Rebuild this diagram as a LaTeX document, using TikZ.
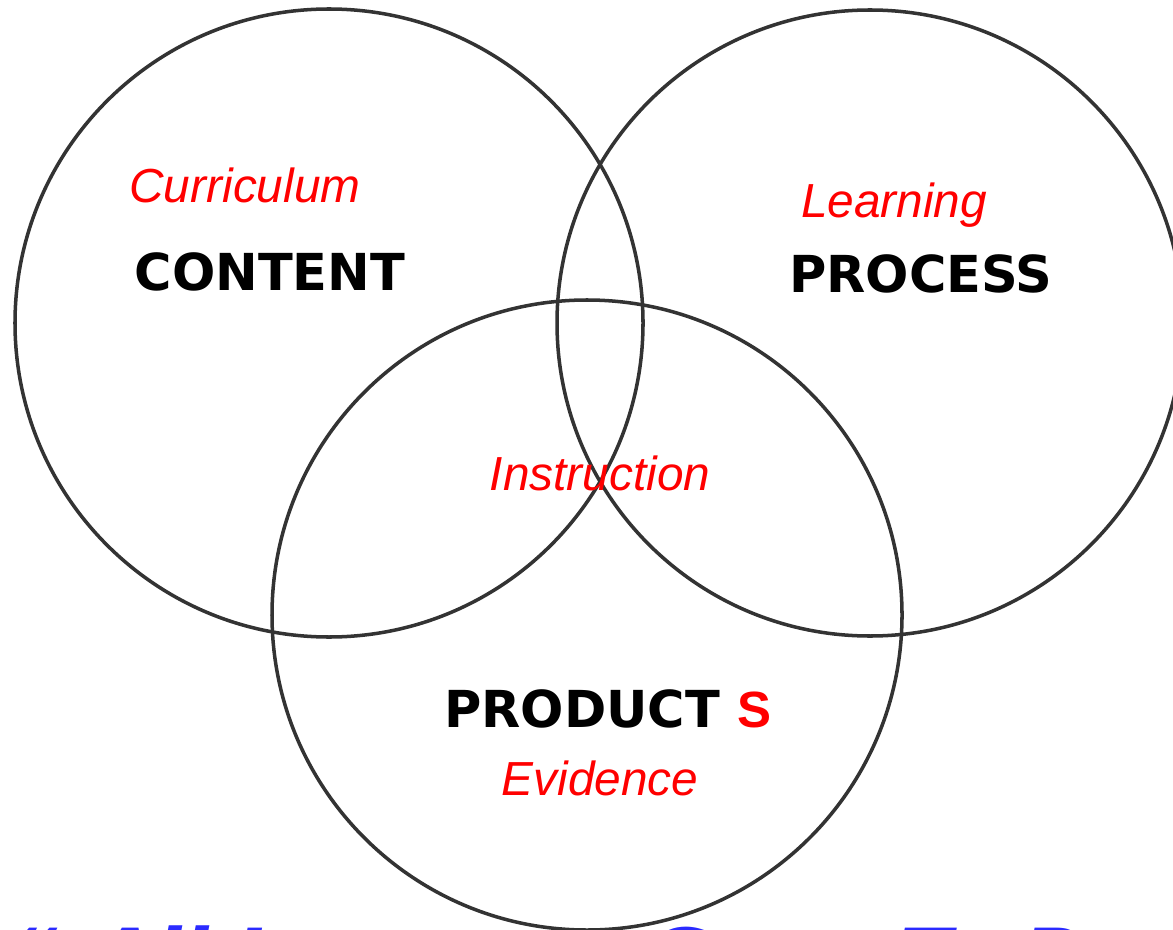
\documentclass[tikz,border=0pt]{standalone}
\usepackage{fontspec}
\setmainfont{Liberation Sans}
\newfontfamily\headfont{DejaVu Sans}
\usetikzlibrary{positioning}

\begin{document}
\begin{tikzpicture}[
    ring/.style={circle, draw=black!80, line width=1pt, inner sep=0pt, outer sep=0pt, minimum size=#1},
    area label/.style={font=\headfont\bfseries\fontsize{14.5}{17}\selectfont, anchor=base},
    red label/.style={font=\itshape\fontsize{13.6}{16}\selectfont, text=red, anchor=base},
    motto/.style={font=\headfont\bfseries\itshape\fontsize{22}{26}\selectfont, text=motto blue, anchor=base west}
]
\definecolor{motto blue}{RGB}{43,43,255}

\useasboundingbox (0,0) rectangle (11.73,9.29);

% Circles
\node[ring=6.28cm] (content) at (3.29,6.06) {};
\node[ring=6.26cm] (process) at (8.70,6.06) {};
\node[ring=6.30cm] (products) at (5.87,3.14) {};

% Content
\node[red label] (curriculum) at (2.45,7.26) {Curriculum};
\node[area label] (contentname) at (2.70,6.39) {CONTENT};

% Process
\node[red label] (learning) at (8.94,7.11) {Learning};
\node[area label] (processname) at (9.21,6.37) {PROCESS};

% Middle
\node[red label] (instruction) at (6.00,4.39) {Instruction};

% Products
\node[area label] (productname) at (6.08,2.02) {PRODUCT\hspace{5pt}{\color{red}\fontfamily{\rmdefault}\selectfont S}};
\node[red label] (evidence) at (6.00,1.34) {Evidence};

% Cut-off line at the bottom
\node[motto] (mottoline) at (-0.05,-0.555) {“\enspace All Learners Grow To Be…”};

\end{tikzpicture}
\end{document}
